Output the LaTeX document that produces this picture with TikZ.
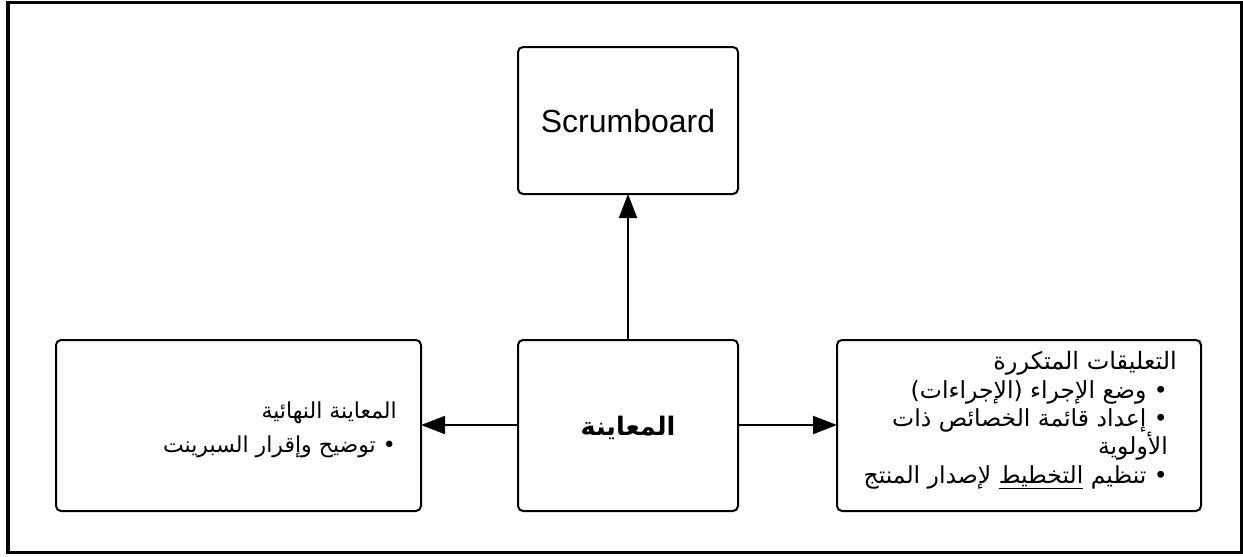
\documentclass[tikz,border=0pt]{standalone}
\usepackage{fontspec}
\usetikzlibrary{arrows.meta}
\setmainfont{Liberation Sans}
\newfontfamily\arabicfont[Script=Arabic]{DejaVu Sans}
\TeXXeTstate=1

\tikzset{
  box/.style={draw, line width=2pt, rounded corners=5pt},
  link/.style={line width=2pt, -{Triangle[length=24pt,width=18pt]}},
  artext/.style={anchor=base east, inner sep=0pt, font=\arabicfont\fontsize{23.5}{28}\selectfont},
  artitle/.style={anchor=base east, inner sep=0pt, font=\arabicfont\fontsize{24}{28}\selectfont},
  lftext/.style={anchor=base east, inner sep=0pt, font=\arabicfont\fontsize{22}{26}\selectfont},
}

\begin{document}
\begin{tikzpicture}[x=1pt, y=-1pt]
  \useasboundingbox (0,0) rectangle (1243,557);
  % outer frame
  \draw[line width=3.5pt] (8,2.5) rectangle (1241.5,552.5);

  % boxes
  \draw[box] (518,47) rectangle (738,194);
  \draw[box] (518,340) rectangle (738,511);
  \draw[box] (56,340) rectangle (421,511);
  \draw[box] (837,340) rectangle (1201,511);

  \coordinate (sbS) at (628,194);
  \coordinate (rvN) at (628,340);
  \coordinate (rvW) at (518,425);
  \coordinate (rvE) at (738,425);
  \coordinate (fnE) at (421,425);
  \coordinate (itW) at (837,425);

  % labels
  \node[inner sep=0pt, anchor=base, font=\fontsize{32}{36}\selectfont] (sb) at (628,132) {Scrumboard};
  \node[inner sep=0pt, anchor=base, font=\arabicfont\bfseries\fontsize{25.5}{30}\selectfont] (rv) at (628,435) {\beginR المعاينة\endR};

  \node[lftext] (fnt) at (397,418) {\beginR المعاينة النهائية\endR};
  \node[lftext] (fn1) at (396,452) {\beginR • توضيح وإقرار السبرينت\endR};

  \node[artitle] (itt) at (1177,369) {\beginR التعليقات المتكررة\endR};
  \node[artext] (it1) at (1168,398) {\beginR • وضع الإجراء (الإجراءات)\endR};
  \node[artext] (it2) at (1168,426) {\beginR • إعداد قائمة الخصائص ذات\endR};
  \node[artext] (it3) at (1168,454) {\beginR الأولوية\endR};
  \node[artext] (it4) at (1168,483) {\beginR • تنظيم \underline{\beginR التخطيط\endR} لإصدار المنتج\endR};

  % connectors
  \draw[link] (rvN) -- (sbS);
  \draw[link] (rvW) -- (fnE);
  \draw[link] (rvE) -- (itW);
\end{tikzpicture}
\end{document}
